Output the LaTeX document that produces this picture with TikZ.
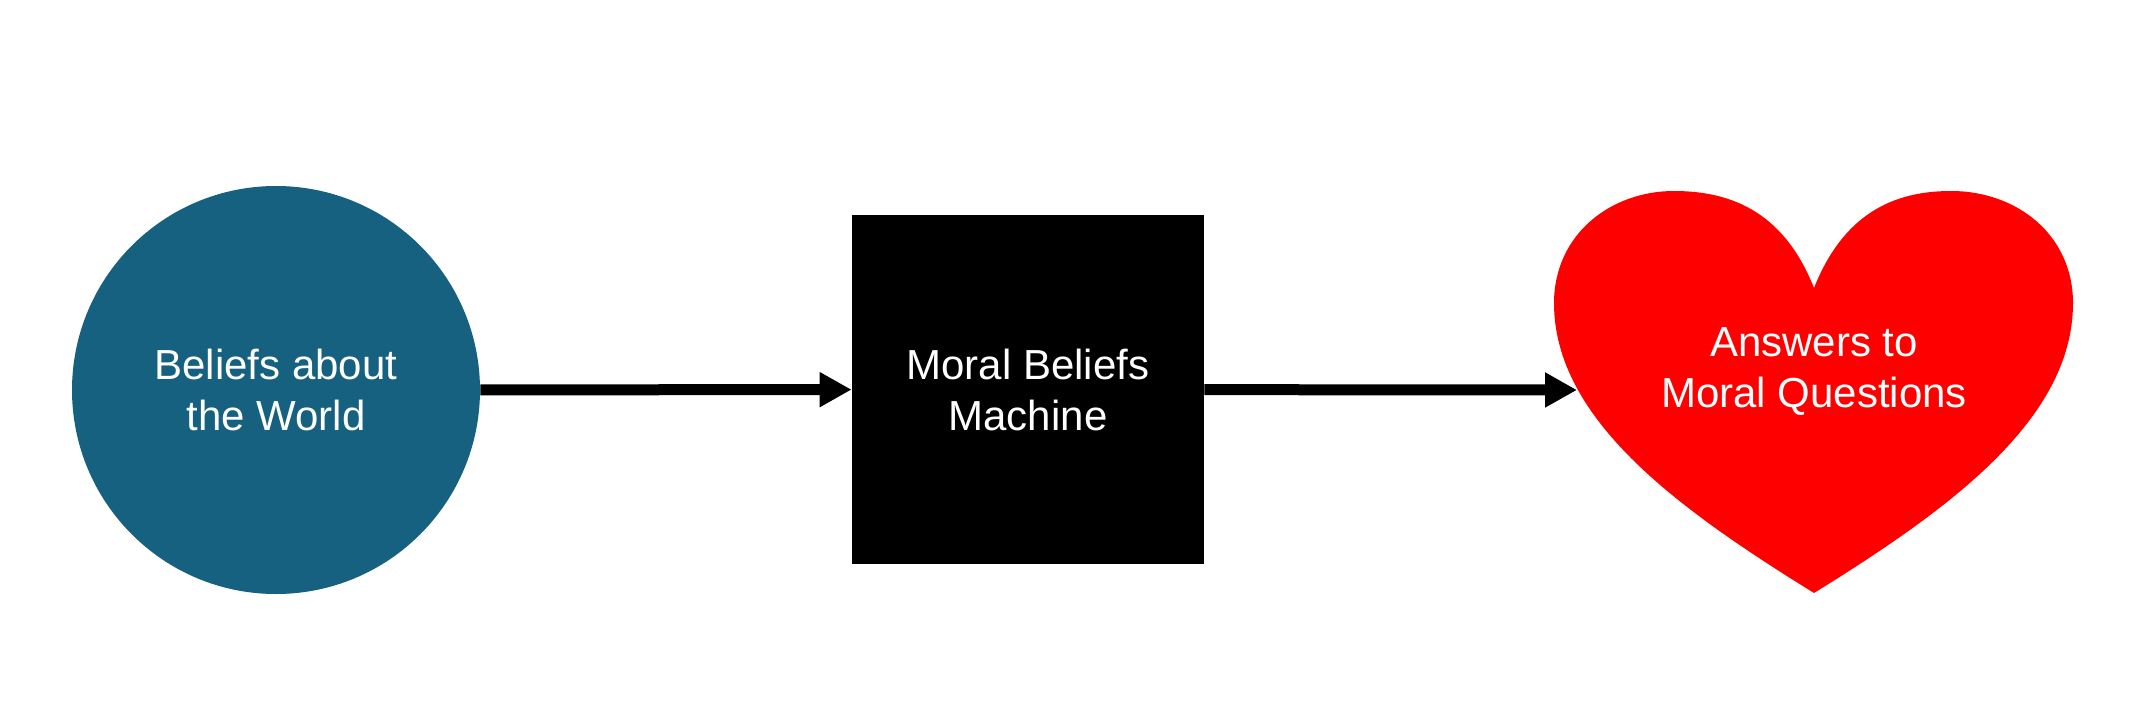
\documentclass[tikz,border=0pt]{standalone}
\usepackage{fontspec}
\setmainfont{Liberation Sans}
\usetikzlibrary{arrows.meta}
\definecolor{beliefblue}{RGB}{22,96,128}
\definecolor{heartred}{RGB}{255,0,0}
\begin{document}
\begin{tikzpicture}[x=0.5pt,y=-0.5pt,
  lbl/.style={text=white,align=center,font=\fontsize{21}{25.5}\selectfont,inner sep=0pt},
  conn/.style={line width=5.5pt,-{Triangle[length=16pt,width=16.5pt]}}]
\useasboundingbox (0,0) rectangle (2142,712);
\fill[white] (0,0) rectangle (2142,712);
% circle
\node[circle,fill=beliefblue,minimum size=204pt,inner sep=0pt,lbl] (circ) at (276,390) {Beliefs about\\the World};
% square
\node[rectangle,fill=black,minimum width=176pt,minimum height=174.5pt,inner sep=0pt,lbl] (sq) at (1028,389.5) {Moral Beliefs\\Machine};
% heart
\fill[heartred] (1814,288) .. controls (1785,215) and (1735,191) .. (1674,191)
  .. controls (1610,191) and (1554,235) .. (1554,303)
  .. controls (1554,420) and (1680,510) .. (1814,593)
  .. controls (1948,510) and (2073,420) .. (2073,303)
  .. controls (2073,235) and (2017,191) .. (1951,191)
  .. controls (1892,191) and (1843,215) .. (1814,288) -- cycle;
\node[lbl] (heart) at (1814,372) {Answers to\\Moral Questions};
\coordinate (heartL) at (1577,390);
% connectors
\draw[conn] (circ) -- (sq);
\draw[conn] (sq) -- (heartL);
\end{tikzpicture}
\end{document}
